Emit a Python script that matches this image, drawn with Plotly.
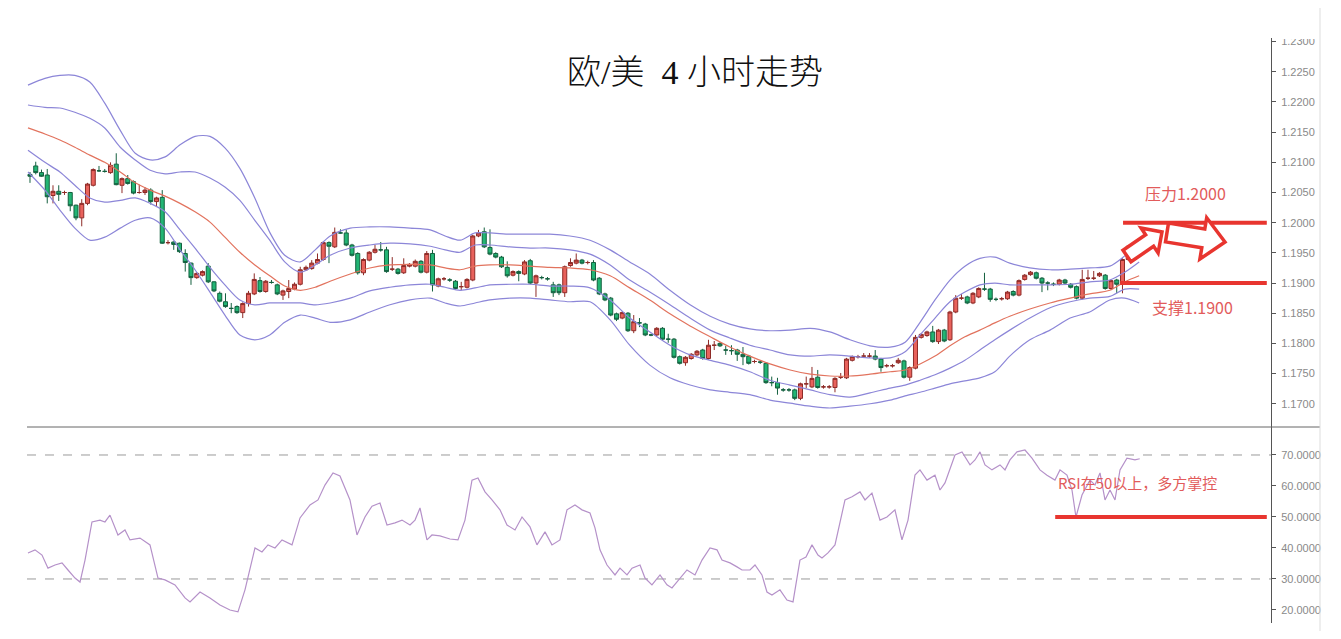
import plotly.graph_objects as go

# ---------------- data ----------------
opens = [1.2080,1.2094,1.2083,1.2079,1.2045,1.2052,1.2050,1.2050,1.2029,1.2008,
         1.2032,1.2062,1.2086,1.2085,1.2083,1.2097,1.2062,1.2073,1.2068,1.2050,
         1.2050,1.2054,1.2035,1.2042,1.1967,1.1968,1.1966,1.1949,1.1933,1.1909,
         1.1913,1.1928,1.1902,1.1883,1.1869,1.1858,1.1861,1.1851,1.1866,1.1882,
         1.1904,1.1886,1.1901,1.1897,1.1880,1.1886,1.1890,1.1898,1.1922,1.1924,
         1.1933,1.1939,1.1967,1.1960,1.1983,1.1983,1.1963,1.1949,1.1917,1.1938,
         1.1951,1.1955,1.1955,1.1923,1.1923,1.1917,1.1928,1.1928,1.1936,1.1918,
         1.1949,1.1895,1.1907,1.1905,1.1903,1.1894,1.1893,1.1905,1.1978,1.1985,
         1.1959,1.1949,1.1943,1.1926,1.1913,1.1919,1.1915,1.1937,1.1900,1.1909,
         1.1907,1.1897,1.1897,1.1884,1.1929,1.1933,1.1938,1.1934,1.1934,1.1908,
         1.1882,1.1875,1.1849,1.1842,1.1850,1.1821,1.1834,1.1832,1.1814,1.1814,
         1.1825,1.1807,1.1807,1.1778,1.1768,1.1775,1.1781,1.1789,1.1775,1.1797,
         1.1800,1.1789,1.1788,1.1789,1.1782,1.1779,1.1770,1.1769,1.1767,1.1735,
         1.1735,1.1723,1.1723,1.1723,1.1709,1.1733,1.1728,1.1744,1.1728,1.1728,
         1.1727,1.1744,1.1743,1.1772,1.1778,1.1779,1.1779,1.1779,1.1774,1.1763,
         1.1763,1.1768,1.1771,1.1744,1.1759,1.1810,1.1813,1.1819,1.1803,1.1822,
         1.1806,1.1852,1.1875,1.1877,1.1867,1.1877,1.1890,1.1890,1.1873,1.1874,
         1.1874,1.1886,1.1880,1.1906,1.1914,1.1917,1.1908,1.1900,1.1898,1.1898,
         1.1905,1.1898,1.1894,1.1875,1.1908,1.1908,1.1912,1.1913,1.1891,1.1905,
         1.1899,1.1939,1.1958,1.1959]
highs = [1.2084,1.2101,1.2088,1.2089,1.2062,1.2062,1.2053,1.2051,1.2030,1.2039,
         1.2066,1.2090,1.2094,1.2089,1.2100,1.2115,1.2075,1.2079,1.2070,1.2063,
         1.2059,1.2057,1.2043,1.2054,1.1971,1.1969,1.1967,1.1956,1.1934,1.1918,
         1.1921,1.1933,1.1903,1.1886,1.1883,1.1867,1.1863,1.1868,1.1887,1.1916,
         1.1910,1.1905,1.1905,1.1899,1.1889,1.1905,1.1901,1.1927,1.1929,1.1938,
         1.1949,1.1969,1.1969,1.1992,1.1989,1.1989,1.1965,1.1951,1.1941,1.1953,
         1.1963,1.1968,1.1960,1.1943,1.1925,1.1941,1.1933,1.1939,1.1938,1.1953,
         1.1955,1.1909,1.1910,1.1908,1.1905,1.1902,1.1908,1.1980,1.1988,1.1992,
         1.1989,1.1951,1.1945,1.1936,1.1921,1.1921,1.1938,1.1940,1.1914,1.1912,
         1.1910,1.1902,1.1899,1.1929,1.1941,1.1949,1.1940,1.1937,1.1938,1.1910,
         1.1884,1.1877,1.1851,1.1853,1.1852,1.1847,1.1842,1.1834,1.1816,1.1827,
         1.1827,1.1816,1.1809,1.1780,1.1779,1.1784,1.1789,1.1791,1.1806,1.1804,
         1.1802,1.1796,1.1797,1.1791,1.1794,1.1781,1.1773,1.1772,1.1769,1.1745,
         1.1743,1.1726,1.1726,1.1725,1.1735,1.1745,1.1761,1.1756,1.1731,1.1731,
         1.1744,1.1751,1.1776,1.1780,1.1781,1.1784,1.1784,1.1789,1.1776,1.1766,
         1.1766,1.1776,1.1773,1.1762,1.1814,1.1817,1.1821,1.1829,1.1824,1.1824,
         1.1854,1.1880,1.1882,1.1879,1.1885,1.1893,1.1917,1.1892,1.1876,1.1877,
         1.1887,1.1888,1.1906,1.1915,1.1920,1.1919,1.1910,1.1903,1.1901,1.1907,
         1.1907,1.1900,1.1896,1.1922,1.1922,1.1920,1.1918,1.1915,1.1906,1.1907,
         1.1941,1.1963,1.1960,1.1962]
lows = [1.2066,1.2080,1.2076,1.2032,1.2032,1.2036,1.2046,1.2019,1.2004,1.1994,
        1.2029,1.2060,1.2084,1.2083,1.2081,1.2062,1.2049,1.2063,1.2047,1.2048,
        1.2046,1.2030,1.2026,1.1965,1.1964,1.1955,1.1950,1.1919,1.1897,1.1907,
        1.1911,1.1900,1.1885,1.1868,1.1859,1.1850,1.1849,1.1842,1.1861,1.1880,
        1.1884,1.1884,1.1899,1.1880,1.1872,1.1875,1.1888,1.1896,1.1920,1.1922,
        1.1931,1.1937,1.1933,1.1958,1.1982,1.1961,1.1944,1.1914,1.1913,1.1936,
        1.1949,1.1952,1.1917,1.1920,1.1914,1.1915,1.1926,1.1926,1.1916,1.1916,
        1.1886,1.1893,1.1904,1.1902,1.1889,1.1888,1.1891,1.1903,1.1976,1.1958,
        1.1946,1.1941,1.1925,1.1909,1.1911,1.1903,1.1913,1.1898,1.1877,1.1906,
        1.1904,1.1877,1.1880,1.1877,1.1927,1.1931,1.1931,1.1931,1.1903,1.1880,
        1.1870,1.1845,1.1837,1.1840,1.1819,1.1817,1.1827,1.1812,1.1812,1.1812,
        1.1805,1.1801,1.1775,1.1765,1.1763,1.1773,1.1779,1.1773,1.1773,1.1789,
        1.1794,1.1781,1.1781,1.1771,1.1764,1.1765,1.1767,1.1766,1.1733,1.1729,
        1.1715,1.1720,1.1720,1.1706,1.1706,1.1726,1.1726,1.1725,1.1725,1.1725,
        1.1719,1.1741,1.1741,1.1770,1.1775,1.1776,1.1776,1.1772,1.1753,1.1760,
        1.1760,1.1766,1.1742,1.1738,1.1757,1.1808,1.1811,1.1801,1.1799,1.1802,
        1.1804,1.1850,1.1872,1.1865,1.1865,1.1875,1.1887,1.1869,1.1870,1.1871,
        1.1872,1.1878,1.1878,1.1904,1.1912,1.1906,1.1885,1.1888,1.1895,1.1896,
        1.1898,1.1891,1.1873,1.1873,1.1905,1.1905,1.1910,1.1889,1.1889,1.1883,
        1.1883,1.1937,1.1955,1.1957]
closes = [1.2077,1.2083,1.2077,1.2043,1.2052,1.2047,1.2050,1.2028,1.2008,1.2032,
          1.2064,1.2088,1.2086,1.2085,1.2095,1.2063,1.2073,1.2065,1.2049,1.2050,
          1.2054,1.2035,1.2041,1.1966,1.1967,1.1964,1.1952,1.1934,1.1909,1.1916,
          1.1919,1.1902,1.1887,1.1870,1.1861,1.1858,1.1851,1.1866,1.1883,1.1906,
          1.1886,1.1903,1.1901,1.1882,1.1887,1.1891,1.1898,1.1922,1.1926,1.1933,
          1.1939,1.1967,1.1961,1.1984,1.1983,1.1963,1.1946,1.1917,1.1939,1.1951,
          1.1956,1.1955,1.1919,1.1923,1.1916,1.1929,1.1931,1.1936,1.1918,1.1949,
          1.1897,1.1907,1.1907,1.1905,1.1891,1.1894,1.1906,1.1978,1.1983,1.1960,
          1.1948,1.1943,1.1927,1.1912,1.1919,1.1916,1.1935,1.1900,1.1912,1.1909,
          1.1907,1.1884,1.1884,1.1927,1.1934,1.1938,1.1933,1.1934,1.1905,1.1882,
          1.1872,1.1847,1.1840,1.1851,1.1821,1.1836,1.1834,1.1814,1.1814,1.1825,
          1.1807,1.1807,1.1777,1.1767,1.1777,1.1782,1.1787,1.1775,1.1797,1.1797,
          1.1796,1.1789,1.1788,1.1782,1.1778,1.1767,1.1770,1.1769,1.1735,1.1735,
          1.1726,1.1723,1.1723,1.1709,1.1733,1.1733,1.1742,1.1727,1.1728,1.1728,
          1.1742,1.1744,1.1774,1.1778,1.1778,1.1779,1.1779,1.1774,1.1760,1.1763,
          1.1763,1.1772,1.1744,1.1760,1.1810,1.1815,1.1819,1.1803,1.1822,1.1804,
          1.1852,1.1875,1.1875,1.1867,1.1883,1.1891,1.1890,1.1873,1.1873,1.1874,
          1.1885,1.1880,1.1904,1.1913,1.1918,1.1908,1.1900,1.1900,1.1898,1.1905,
          1.1900,1.1893,1.1875,1.1906,1.1908,1.1908,1.1916,1.1891,1.1904,1.1898,
          1.1939,1.1961,1.1957,1.1959]

# Bollinger band readings (sample positions are candle indices)
bb_x = [-0.35,2.6,5.2,7.8,10.4,13.0,15.7,18.3,20.9,23.5,26.1,28.7,31.3,33.9,36.5,
        39.1,41.7,44.3,47.0,49.6,52.2,55.7,59.1,62.6,66.1,69.6,72.2,74.8,77.4,80.0,
        83.5,87.0,90.4,93.9,97.4,100.9,104.3,107.8,111.3,114.8,118.3,121.7,125.2,
        128.7,132.2,135.7,139.1,142.6,146.1,149.6,152.2,154.8,157.4,160.0,162.6,
        165.2,167.8,170.4,173.9,177.4,180.9,184.3,187.8,190.4,192.9]
bb_up2 = [1.2228,1.2239,1.2244,1.2244,1.2233,1.2198,1.2153,1.2115,1.2104,1.2109,
          1.2129,1.2143,1.2143,1.2124,1.2090,1.2041,1.1984,1.1946,1.1935,1.1955,
          1.1978,1.1991,1.1993,1.1993,1.1991,1.1988,1.1978,1.1971,1.1983,1.1983,
          1.1981,1.1981,1.1981,1.1978,1.1971,1.1955,1.1935,1.1915,1.1888,1.1864,
          1.1845,1.1832,1.1824,1.1821,1.1822,1.1825,1.1819,1.1806,1.1796,1.1794,
          1.1802,1.1835,1.1872,1.1905,1.1928,1.1941,1.1943,1.1933,1.1925,1.1922,
          1.1923,1.1925,1.1928,1.1945,1.1965]
bb_up1 = [1.2195,1.2191,1.2190,1.2183,1.2173,1.2157,1.2125,1.2104,1.2087,1.2081,
          1.2084,1.2084,1.2074,1.2059,1.2037,1.2004,1.1971,1.1935,1.1918,1.1930,
          1.1946,1.1958,1.1963,1.1966,1.1965,1.1961,1.1955,1.1951,1.1963,1.1963,
          1.1960,1.1958,1.1958,1.1955,1.1948,1.1930,1.1905,1.1885,1.1864,1.1842,
          1.1822,1.1809,1.1797,1.1789,1.1781,1.1779,1.1781,1.1779,1.1776,1.1776,
          1.1786,1.1814,1.1842,1.1869,1.1885,1.1897,1.1900,1.1897,1.1897,1.1897,
          1.1898,1.1902,1.1905,1.1918,1.1935]
bb_mid = [1.2157,1.2147,1.2137,1.2125,1.2112,1.2100,1.2084,1.2066,1.2054,1.2044,
          1.2032,1.2018,1.2001,1.1976,1.1951,1.1930,1.1912,1.1895,1.1888,1.1893,
          1.1903,1.1915,1.1925,1.1930,1.1931,1.1930,1.1925,1.1922,1.1928,1.1930,
          1.1930,1.1928,1.1926,1.1925,1.1922,1.1912,1.1892,1.1872,1.1849,1.1829,
          1.1811,1.1794,1.1779,1.1766,1.1756,1.1749,1.1746,1.1746,1.1749,1.1753,
          1.1756,1.1766,1.1779,1.1796,1.1811,1.1822,1.1834,1.1845,1.1857,1.1867,
          1.1875,1.1882,1.1888,1.1902,1.1912]
bb_lo1 = [1.2120,1.2100,1.2084,1.2062,1.2041,1.2034,1.2037,1.2041,1.2032,1.2018,
          1.1988,1.1958,1.1926,1.1897,1.1872,1.1864,1.1867,1.1867,1.1867,1.1864,
          1.1867,1.1875,1.1887,1.1893,1.1897,1.1898,1.1893,1.1888,1.1892,1.1897,
          1.1898,1.1898,1.1895,1.1895,1.1892,1.1872,1.1842,1.1819,1.1797,1.1781,
          1.1772,1.1764,1.1753,1.1739,1.1731,1.1723,1.1715,1.1711,1.1718,1.1726,
          1.1731,1.1739,1.1748,1.1759,1.1772,1.1789,1.1806,1.1822,1.1842,1.1859,
          1.1869,1.1875,1.1878,1.1890,1.1890]
bb_lo2 = [1.2084,1.2054,1.2021,1.1991,1.1971,1.1976,1.1991,1.2004,1.2008,1.1991,
          1.1955,1.1922,1.1885,1.1847,1.1814,1.1806,1.1814,1.1835,1.1847,1.1842,
          1.1835,1.1839,1.1852,1.1864,1.1872,1.1875,1.1867,1.1862,1.1867,1.1872,
          1.1875,1.1875,1.1872,1.1869,1.1869,1.1839,1.1797,1.1764,1.1743,1.1731,
          1.1723,1.1719,1.1715,1.1706,1.1701,1.1696,1.1693,1.1696,1.1700,1.1706,
          1.1713,1.1719,1.1726,1.1733,1.1738,1.1743,1.1753,1.1779,1.1806,1.1822,
          1.1842,1.1852,1.1872,1.1875,1.1867]

# RSI readings
rsi_x = [-0.35,0.87,2.09,3.13,4.35,5.57,6.61,7.83,8.70,9.57,10.78,12.17,13.04,13.91,
         15.30,16.52,17.39,19.13,20.87,22.26,23.48,25.22,26.96,27.83,29.57,31.30,
         33.04,34.78,36.17,37.39,39.13,40.35,41.39,42.61,43.83,45.57,46.96,48.70,
         50.09,51.30,52.70,53.91,55.65,56.87,58.26,59.48,60.87,62.09,63.48,64.70,
         66.09,66.96,67.83,69.04,69.91,71.30,73.04,74.43,75.65,76.87,77.91,79.13,
         80.35,81.74,82.96,84.35,85.57,86.96,88.17,89.57,90.78,92.17,93.39,94.78,
         96.00,97.39,98.26,99.13,100.35,101.74,102.61,103.83,104.70,106.09,106.96,
         108.17,109.57,110.78,111.65,113.04,114.26,115.65,116.87,118.26,119.48,
         120.35,121.74,122.96,123.83,125.22,126.09,127.30,128.17,129.04,130.43,
         131.65,132.70,133.91,134.96,136.00,137.04,137.74,138.78,140.00,141.74,
         142.96,144.35,145.22,146.43,147.83,149.04,150.43,151.65,152.70,153.91,
         154.78,156.00,157.39,158.26,159.13,160.00,160.87,162.09,163.48,164.35,
         165.22,166.09,167.30,168.70,169.57,170.43,171.65,173.04,174.26,175.65,
         176.87,178.26,179.13,180.35,181.22,181.91,182.96,184.35,185.22,186.09,
         186.96,187.83,188.70,189.57,190.78,192.17,193.0]
rsi_val = [38.4,39.4,37.7,33.5,34.5,35.2,32.9,30.3,29.0,36.1,48.4,49.0,48.4,50.6,
           44.2,45.8,42.6,43.2,41.0,30.3,29.7,28.1,23.9,22.6,25.8,23.9,21.6,20.0,
           19.4,26.5,40.0,38.7,41.0,40.0,42.6,41.0,49.7,53.9,55.5,60.3,64.2,63.2,
           55.5,44.2,50.0,53.5,54.5,47.4,48.1,49.0,47.4,49.0,52.9,42.6,44.2,43.9,
           42.9,42.6,49.0,61.9,62.6,58.1,55.5,52.3,47.4,45.8,50.0,46.8,41.0,45.2,
           41.0,42.6,52.3,53.9,52.3,51.3,46.5,39.4,34.5,31.3,33.5,31.3,33.5,34.5,
           30.3,28.1,31.3,28.1,27.1,30.3,32.9,31.3,36.1,40.0,39.4,36.1,35.2,33.9,
           32.9,32.9,34.5,31.3,25.8,24.8,26.5,23.2,22.6,36.1,37.1,41.0,37.7,36.8,
           38.4,41.0,55.5,56.5,58.1,55.5,57.7,49.0,50.0,52.3,42.6,49.0,63.5,65.2,
           61.9,63.5,58.7,61.0,65.2,70.0,71.0,66.8,68.4,71.0,66.8,65.2,66.8,65.2,
           68.4,71.0,71.6,69.0,65.2,63.5,61.9,65.2,63.5,58.7,50.0,57.1,61.9,60.3,
           64.2,55.5,58.7,55.5,65.2,69.0,68.4,68.8]

price_ticks = [1.1700,1.1750,1.1800,1.1850,1.1900,1.1950,1.2000,1.2050,
               1.2100,1.2150,1.2200,1.2250,1.2300]
rsi_ticks = [20,30,40,50,60,70]

title_text = "欧/美  4 小时走势"
resist_text = "压力1.2000"
support_text = "支撑1.1900"
rsi_text = "RSI在50以上，多方掌控"
resist_level = 1.2000
support_level = 1.1900
rsi_level = 50

# ---------------- geometry (page has an 8px body margin) ----------------
OFF = 8
W, H = 1341 - 2 * OFF, 639 - 2 * OFF
PL, PR, PT, PB = 27, 1271, 38, 623          # plot area in page pixels
L, T = PL - OFF, PT - OFF
R, B = W - (PR - OFF), H - (PB - OFF)
PW, PH = PR - PL, PB - PT
def px(xp):
    return (xp - PL) / PW
def py(yp):
    return (PB - yp) / PH

split = py(427)

fig = go.Figure()

band_col = "#8c86d8"
for arr in [bb_up2, bb_up1, bb_lo1, bb_lo2]:
    fig.add_trace(go.Scatter(x=bb_x, y=arr, mode="lines",
                             line=dict(color=band_col, width=1.2, shape="spline", smoothing=0.8),
                             hoverinfo="skip", showlegend=False))
fig.add_trace(go.Scatter(x=bb_x, y=bb_mid, mode="lines",
                         line=dict(color="#e2735e", width=1.2, shape="spline", smoothing=0.8),
                         hoverinfo="skip", showlegend=False))

fig.add_trace(go.Candlestick(
    x=list(range(len(opens))), open=opens, high=highs, low=lows, close=closes,
    increasing=dict(fillcolor="#e8625c", line=dict(color="#8e2b27", width=1)),
    decreasing=dict(fillcolor="#22b574", line=dict(color="#14603f", width=1)),
    whiskerwidth=0, showlegend=False))

fig.add_trace(go.Scatter(x=rsi_x, y=rsi_val, mode="lines", yaxis="y2",
                         line=dict(color="#b591c9", width=1.2),
                         hoverinfo="skip", showlegend=False))

red = "#e8352f"
shapes = []
shapes.append(dict(type="line", xref="x", yref="y", x0=190.1, x1=215.1,
                   y0=resist_level, y1=resist_level, line=dict(color=red, width=4), layer="above"))
shapes.append(dict(type="line", xref="x", yref="y", x0=189.6, x1=215.1,
                   y0=support_level, y1=support_level, line=dict(color=red, width=4), layer="above"))
shapes.append(dict(type="line", xref="x", yref="y2", x0=178.3, x1=215.1,
                   y0=rsi_level, y1=rsi_level, line=dict(color=red, width=4), layer="above"))
for lv in [70, 30]:
    shapes.append(dict(type="line", xref="paper", yref="y2", x0=0, x1=1, y0=lv, y1=lv,
                       line=dict(color="#9a9a9a", width=1, dash="dash"), layer="below"))
shapes.append(dict(type="line", xref="paper", yref="paper", x0=0, x1=px(1320),
                   y0=split, y1=split, line=dict(color="#666", width=1)))
shapes.append(dict(type="line", xref="paper", yref="paper", x0=px(1320), x1=px(1320),
                   y0=py(631), y1=py(8), line=dict(color="#dddddd", width=1)))
shapes.append(dict(type="rect", xref="paper", yref="paper", x0=px(1273), x1=px(1318),
                   y0=py(39), y1=py(8), fillcolor="white", line=dict(width=0), layer="above"))

def path(pts):
    return "M " + " L ".join(f"{px(a):.5f},{py(b):.5f}" for a, b in pts) + " Z"

small_arrow = [(1131.0, 261.8), (1153.6, 246.3), (1158.1, 252.9), (1162, 232),
               (1141.1, 228.1), (1145.6, 234.7), (1123.0, 250.2)]
big_arrow = [(1168.5, 223.1), (1204.8, 229.0), (1206.7, 217.7), (1225, 242),
             (1199.9, 259.1), (1201.8, 247.8), (1165.5, 241.9)]
for pts in [small_arrow, big_arrow]:
    shapes.append(dict(type="path", xref="paper", yref="paper", path=path(pts),
                       fillcolor="white", line=dict(color=red, width=3.5), layer="above"))

txt_red = "#e25b5b"
annotations = [
    dict(text=title_text, xref="paper", yref="paper", x=px(695), y=py(72),
         xanchor="center", yanchor="middle", showarrow=False,
         font=dict(family="Liberation Serif, Noto Sans CJK SC", size=34, color="#111", weight=300)),
    dict(text=resist_text, xref="paper", yref="paper", x=px(1185), y=py(193),
         xanchor="center", yanchor="middle", showarrow=False,
         font=dict(family="Noto Sans CJK SC", size=16, color=txt_red)),
    dict(text=support_text, xref="paper", yref="paper", x=px(1192), y=py(307),
         xanchor="center", yanchor="middle", showarrow=False,
         font=dict(family="Noto Sans CJK SC", size=16, color=txt_red)),
    dict(text=rsi_text, xref="paper", yref="paper", x=px(1137), y=py(482),
         xanchor="center", yanchor="middle", showarrow=False,
         font=dict(family="Noto Sans CJK SC", size=15, color=txt_red)),
]

axis_common = dict(side="right", anchor="x", showgrid=False, zeroline=False,
                   showline=True, linecolor="#555", linewidth=1,
                   ticks="outside", ticklen=4, tickcolor="#555", ticklabelstandoff=3,
                   tickfont=dict(family="Liberation Sans, Arial", size=11, color="#8a8a8a"),
                   fixedrange=True)

fig.update_layout(
    width=W, height=H, autosize=False,
    margin=dict(l=L, r=R, t=T, b=B, pad=0),
    paper_bgcolor="white", plot_bgcolor="white",
    showlegend=False,
    boxgap=0.3, boxgroupgap=0,
    xaxis=dict(range=[-0.52, 215.83], visible=False, rangeslider=dict(visible=False),
               fixedrange=True),
    yaxis=dict(domain=[split, 1], range=[1.16615, 1.2306],
               tickvals=price_ticks, ticktext=[f"{v:.4f}" for v in price_ticks], **axis_common),
    yaxis2=dict(domain=[0, split], range=[15.8, 79.03],
                tickvals=rsi_ticks, ticktext=[f"{v:.4f}" for v in rsi_ticks], **axis_common),
    shapes=shapes, annotations=annotations,
)

fig.write_html("out.html")
